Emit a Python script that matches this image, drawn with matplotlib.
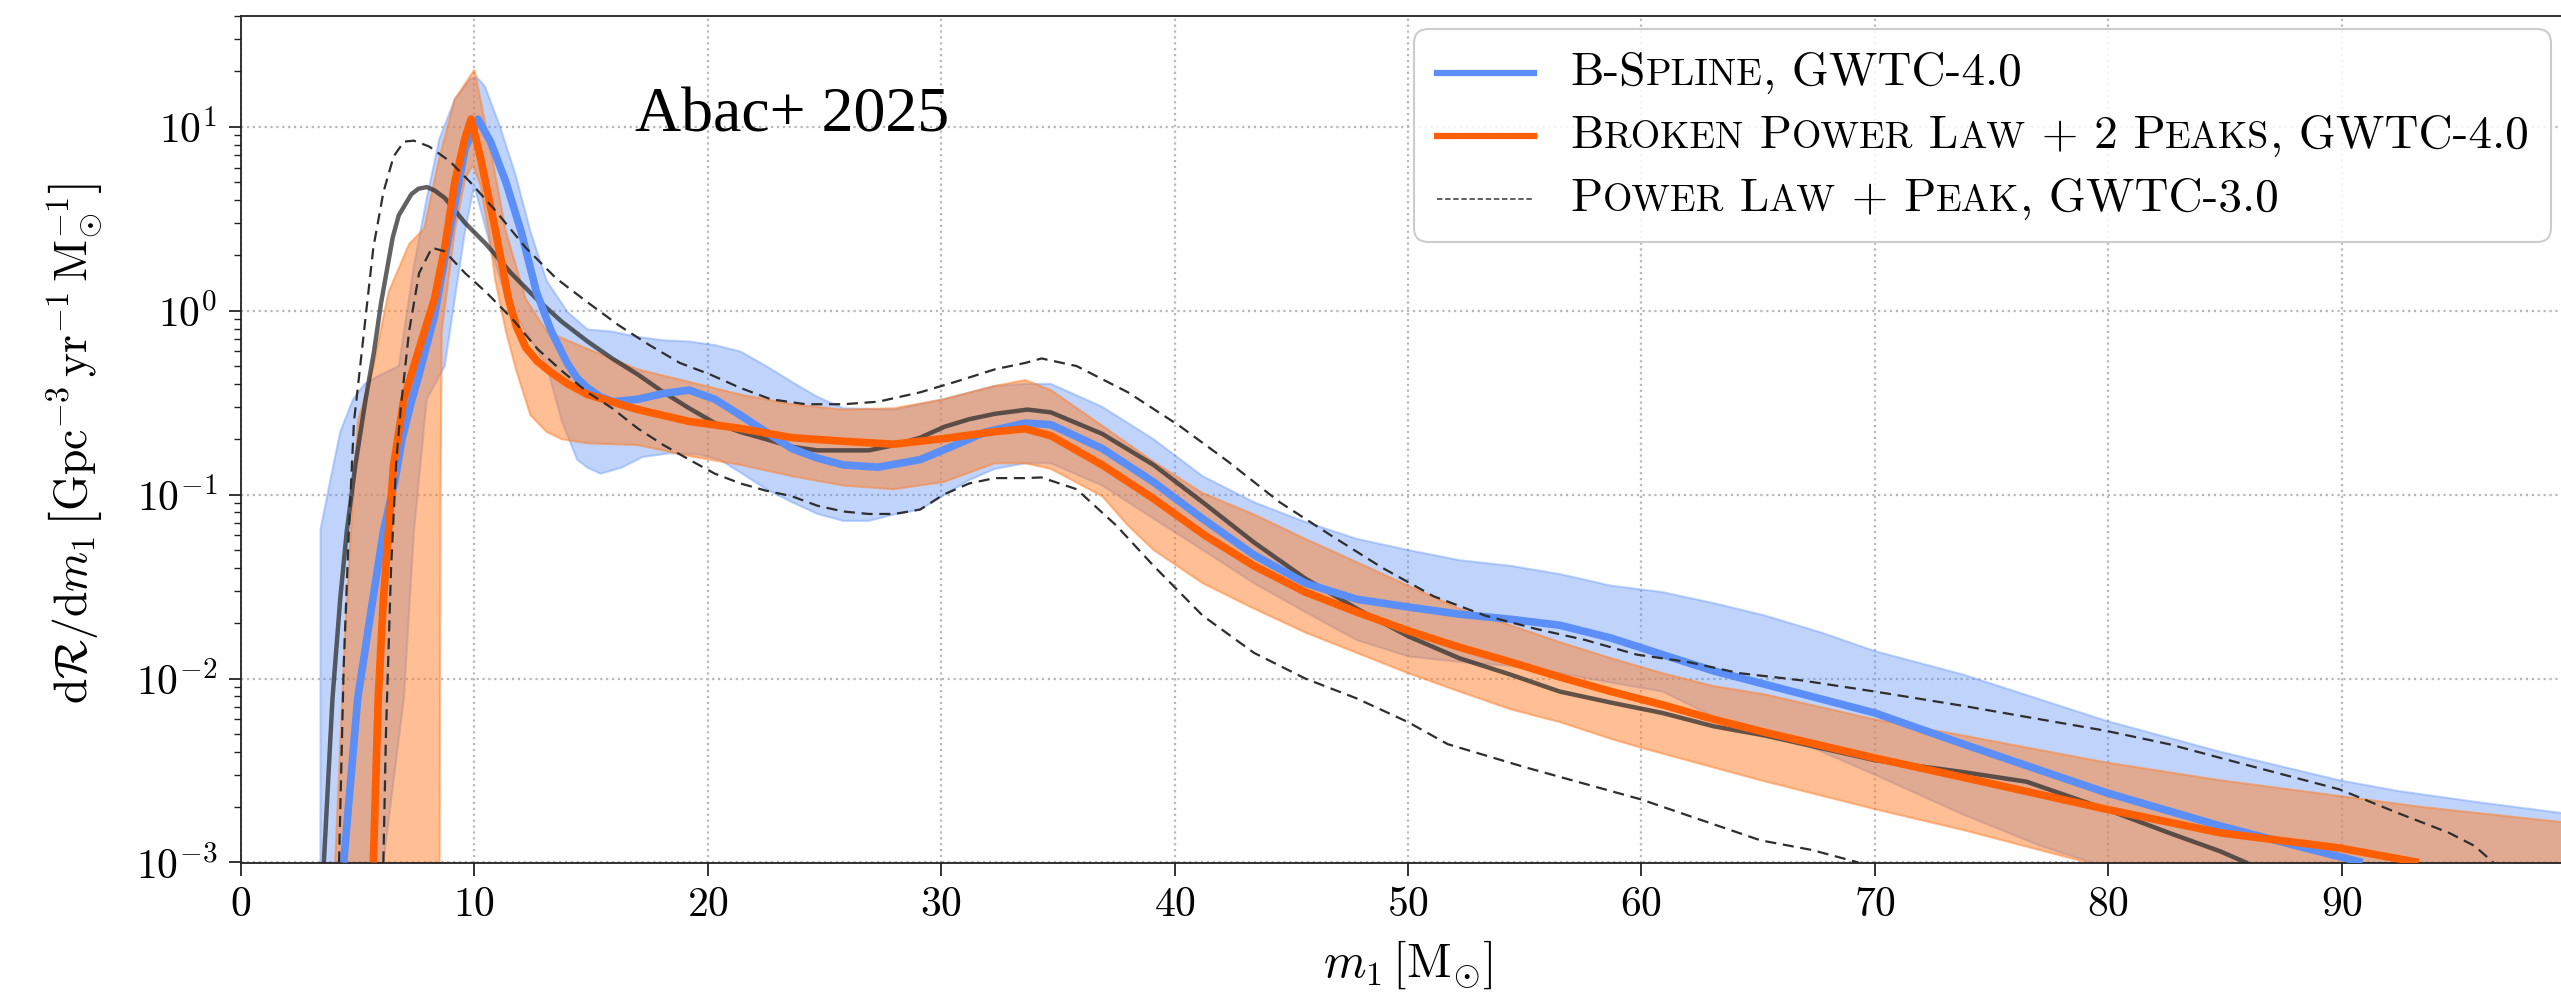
import numpy as np
import matplotlib
matplotlib.use("Agg")
import matplotlib.pyplot as plt
from matplotlib.offsetbox import AnchoredOffsetbox, HPacker, VPacker, TextArea, DrawingArea
from matplotlib.lines import Line2D
from matplotlib.ticker import LogLocator, NullFormatter, FixedLocator

plt.rcParams['font.family'] = 'cmr10'
plt.rcParams['mathtext.fontset'] = 'cm'
plt.rcParams['axes.formatter.use_mathtext'] = True

# ---------------- data ----------------
# B-Spline, GWTC-4.0
bs_med_m = [4.4, 5.0, 5.65, 6.1, 6.6, 6.9, 7.3, 7.63, 8.29, 8.94, 9.6, 10.15, 10.69, 11.35, 12.0,
            12.66, 13.3, 13.97, 14.4, 14.85, 15.4, 15.94, 17.0, 18.1, 19.2, 20.3, 21.4, 22.5, 23.6,
            24.7, 25.8, 27.3, 29.1, 30.6, 31.9, 33.6, 34.7, 36.9, 39.1, 41.2, 43.4, 45.6, 47.8, 50.0,
            52.2, 54.4, 56.5, 58.7, 60.9, 63.1, 65.3, 70.0, 73.8, 79.9, 84.8, 88.1, 90.9]
bs_med_r = [0.001, 0.0078, 0.027, 0.063, 0.12, 0.2, 0.32, 0.45, 0.94, 2.7, 7.6, 11.0, 8.3, 5.0, 2.7,
            1.26, 0.77, 0.52, 0.43, 0.38, 0.34, 0.32, 0.33, 0.355, 0.37, 0.33, 0.27, 0.219, 0.178,
            0.158, 0.145, 0.141, 0.155, 0.186, 0.219, 0.245, 0.24, 0.178, 0.117, 0.074, 0.047, 0.033,
            0.027, 0.0245, 0.0224, 0.021, 0.0195, 0.0166, 0.0135, 0.011, 0.0093, 0.0065, 0.0044,
            0.0024, 0.00158, 0.00123, 0.001]
bs_hi_m = [3.40, 3.41, 3.81, 4.25, 4.8, 5.3, 6.0, 6.76, 7.41, 7.96, 8.5, 9.16, 9.82, 10.1, 10.45,
           11.1, 11.76, 12.4, 13.1, 14.0, 14.85, 15.9, 17.0, 18.1, 19.2, 20.3, 21.4, 22.5, 23.6,
           24.7, 25.8, 28.0, 30.1, 32.3, 33.6, 34.7, 36.9, 39.1, 41.2, 43.4, 45.6, 47.8, 50.0, 52.2,
           54.4, 56.5, 58.7, 60.9, 63.1, 65.3, 67.7, 70.0, 73.8, 79.9, 84.8, 89.9, 92.4, 95.7, 99.4, 100.0]
bs_hi_r = [0.0001, 0.065, 0.117, 0.219, 0.33, 0.40, 0.45, 0.50, 1.76, 4.1, 8.6, 14.1, 18.2, 18.6, 16.6,
           10.0, 5.5, 2.7, 1.45, 0.98, 0.79, 0.77, 0.72, 0.69, 0.68, 0.65, 0.60, 0.50, 0.41,
           0.34, 0.295, 0.29, 0.33, 0.39, 0.40, 0.40, 0.30, 0.20, 0.126, 0.091, 0.071, 0.0575, 0.050,
           0.044, 0.041, 0.037, 0.032, 0.0295, 0.0257, 0.022, 0.0178, 0.0141, 0.0105, 0.0059, 0.004,
           0.0028, 0.00245, 0.00214, 0.00186, 0.00183]
bs_lo_m = [6.09, 6.1, 6.98, 7.41, 7.96, 8.73, 9.16, 9.6, 9.99, 10.7, 11.35, 12.2, 13.1, 13.75, 14.4,
           14.85, 15.4, 16.3, 17.2, 18.4, 19.6, 20.5, 21.4, 22.5, 23.6, 24.7, 25.8, 26.9, 28.0, 29.1,
           30.1, 31.2, 32.3, 33.6, 34.7, 36.9, 39.1, 41.2, 43.4, 45.6, 47.8, 50.0, 52.2, 54.4, 56.5,
           58.7, 60.9, 63.1, 65.1, 66.8, 70.0, 73.8, 77.1, 79.3, 100.0]
bs_lo_r = [0.0001, 0.001, 0.0078, 0.063, 0.33, 0.50, 1.16, 2.7, 4.8, 2.2, 1.16, 0.77, 0.50, 0.25, 0.155,
           0.14, 0.13, 0.14, 0.16, 0.168, 0.165, 0.155, 0.132, 0.107, 0.091, 0.0785, 0.072, 0.072, 0.078,
           0.083, 0.099, 0.12, 0.138, 0.148, 0.148, 0.112, 0.074, 0.050, 0.033, 0.023, 0.0162, 0.0132,
           0.0123, 0.0117, 0.0107, 0.0095, 0.0085, 0.0062, 0.0049, 0.0045, 0.003, 0.00182, 0.00123,
           0.001, 0.0001]

# Broken Power Law + 2 Peaks, GWTC-4.0
bp_med_m = [5.67, 5.88, 6.1, 6.32, 6.54, 6.98, 7.63, 8.29, 8.73, 9.16, 9.6, 9.86, 10.26, 10.91, 11.46,
            11.8, 12.2, 12.7, 13.3, 14.0, 14.85, 17.0, 19.2, 21.4, 23.6, 25.8, 27.96, 30.15, 32.3,
            33.6, 34.7, 36.9, 39.1, 41.3, 43.4, 45.6, 47.8, 50.0, 52.2, 54.4, 56.5, 58.7, 60.9, 63.1,
            65.3, 70.0, 73.8, 79.9, 84.8, 89.9, 93.3]
bp_med_r = [0.001, 0.0078, 0.027, 0.063, 0.145, 0.33, 0.62, 1.16, 2.2, 5.0, 8.7, 11.0, 6.8, 2.7, 1.16,
            0.82, 0.63, 0.53, 0.46, 0.40, 0.35, 0.29, 0.25, 0.229, 0.204, 0.195, 0.188, 0.202, 0.22,
            0.228, 0.209, 0.145, 0.095, 0.060, 0.041, 0.0295, 0.023, 0.0182, 0.0148, 0.0123, 0.0102,
            0.0085, 0.0072, 0.006, 0.0051, 0.0037, 0.0029, 0.00195, 0.00145, 0.0012, 0.001]
bp_hi_m = [4.02, 4.03, 4.46, 4.79, 5.01, 5.67, 6.32, 7.2, 7.85, 8.5, 9.16, 10.0, 10.69, 11.35, 12.2,
           13.1, 14.85, 17.0, 19.2, 21.4, 23.6, 25.8, 28.0, 30.1, 32.3, 33.6, 34.7, 36.9, 39.1, 41.2,
           43.4, 45.6, 47.8, 50.0, 52.2, 54.4, 56.5, 58.7, 60.9, 63.1, 65.3, 70.0, 73.8, 79.9, 84.8,
           89.9, 93.5, 99.4, 100.0]
bp_hi_r = [0.0001, 0.001, 0.0178, 0.095, 0.25, 0.50, 1.26, 2.3, 2.8, 6.8, 14.1, 20.4, 7.6, 2.7, 1.16,
           0.77, 0.62, 0.48, 0.41, 0.35, 0.31, 0.29, 0.295, 0.33, 0.39, 0.42, 0.37, 0.237, 0.151, 0.102,
           0.078, 0.0575, 0.043, 0.032, 0.024, 0.0195, 0.0158, 0.0129, 0.0107, 0.0091, 0.0082, 0.006,
           0.0049, 0.0035, 0.0028, 0.0023, 0.002, 0.00166, 0.00163]
bp_lo_m = [8.50, 8.51, 8.55, 8.6, 9.16, 9.6, 9.93, 10.26, 10.6, 10.9, 11.35, 11.8, 12.4, 13.1, 13.75,
           14.85, 17.0, 19.2, 21.4, 23.6, 25.8, 27.96, 30.1, 32.3, 33.6, 34.7, 36.9, 38.0, 39.1, 41.2,
           43.4, 45.6, 47.8, 50.0, 52.2, 54.4, 56.5, 58.7, 60.0, 65.1, 70.0, 73.8, 79.1, 100.0]
bp_lo_r = [0.0001, 0.001, 0.1, 0.77, 2.7, 5.2, 6.2, 4.8, 2.7, 1.45, 0.77, 0.47, 0.27, 0.219, 0.20,
           0.19, 0.186, 0.162, 0.145, 0.126, 0.112, 0.107, 0.117, 0.148, 0.148, 0.138, 0.098, 0.068,
           0.050, 0.033, 0.024, 0.0178, 0.0138, 0.0107, 0.0085, 0.0068, 0.0058, 0.0047, 0.0042, 0.0028,
           0.00195, 0.0015, 0.001, 0.0001]

# Power Law + Peak, GWTC-3.0
pp_med_m = [3.55, 3.92, 4.25, 4.53, 4.9, 5.34, 5.7, 6.0, 6.3, 6.5, 6.76, 7.3, 7.6, 7.96, 8.3, 8.73,
            9.6, 10.5, 11.57, 12.66, 13.75, 14.85, 15.9, 17.0, 18.1, 19.2, 20.3, 21.4, 22.5, 23.6,
            24.7, 25.8, 26.9, 28.0, 29.1, 30.15, 31.2, 32.3, 33.7, 34.7, 36.9, 39.1, 41.2, 43.4,
            45.6, 47.8, 50.0, 52.2, 54.4, 56.5, 58.7, 60.9, 63.1, 65.3, 70.0, 73.8, 76.5, 79.9, 82.6,
            84.8, 85.9]
pp_med_r = [0.001, 0.0078, 0.027, 0.063, 0.145, 0.33, 0.6, 1.1, 1.8, 2.5, 3.3, 4.3, 4.6, 4.7, 4.5, 4.1,
            3.0, 2.3, 1.6, 1.16, 0.87, 0.68, 0.55, 0.45, 0.36, 0.295, 0.245, 0.219, 0.20, 0.182,
            0.174, 0.174, 0.174, 0.186, 0.204, 0.234, 0.257, 0.275, 0.29, 0.28, 0.214, 0.145, 0.091,
            0.055, 0.035, 0.024, 0.017, 0.0129, 0.0105, 0.0085, 0.0074, 0.0065, 0.0055, 0.0049,
            0.0036, 0.0031, 0.00275, 0.00195, 0.00145, 0.00115, 0.001]
pp_hi_m = [4.2, 4.4, 4.62, 4.84, 4.95, 5.27, 5.67, 6.1, 6.54, 6.98, 7.41, 8.07, 8.94, 9.82, 10.9,
           12.2, 13.5, 14.85, 16.2, 17.5, 18.8, 20.1, 21.4, 22.7, 24.2, 25.8, 27.3, 29.1, 30.6, 32.3,
           33.6, 34.3, 35.8, 38.0, 40.2, 42.3, 44.5, 46.7, 48.9, 51.1, 53.3, 55.5, 57.6, 59.8, 62.0,
           64.2, 66.8, 70.0, 73.8, 77.1, 79.9, 82.6, 85.9, 89.9, 92.4, 94.6, 95.7, 96.5]
pp_hi_r = [0.001, 0.0117, 0.063, 0.25, 0.33, 0.77, 2.2, 4.4, 6.9, 8.3, 8.4, 7.8, 6.5, 5.0, 3.5,
           2.2, 1.5, 1.11, 0.83, 0.65, 0.52, 0.45, 0.38, 0.33, 0.31, 0.31, 0.32, 0.36, 0.41, 0.48,
           0.52, 0.55, 0.50, 0.36, 0.237, 0.151, 0.091, 0.060, 0.040, 0.028, 0.022, 0.0186, 0.0162,
           0.0135, 0.0123, 0.0107, 0.0098, 0.0085, 0.0071, 0.006, 0.0052, 0.0044, 0.0034, 0.0025,
           0.00186, 0.00145, 0.00123, 0.001]
pp_lo_m = [6.1, 6.21, 6.43, 6.65, 6.85, 7.2, 7.63, 8.18, 8.73, 9.6, 10.5, 11.6, 12.7, 13.75, 14.85,
           15.9, 17.0, 18.1, 19.2, 20.3, 21.4, 22.5, 23.6, 24.7, 25.8, 26.9, 28.0, 29.1, 30.1, 31.2,
           32.3, 33.6, 34.3, 35.8, 37.5, 39.1, 41.2, 43.4, 45.6, 47.8, 50.0, 51.7, 55.0, 60.0, 65.1,
           67.3, 69.3]
pp_lo_r = [0.001, 0.005, 0.04, 0.15, 0.3, 0.77, 1.6, 2.2, 2.1, 1.6, 1.26, 0.91, 0.62, 0.47, 0.36,
           0.295, 0.229, 0.186, 0.155, 0.13, 0.115, 0.105, 0.098, 0.087, 0.081, 0.0785, 0.0785, 0.083,
           0.1, 0.115, 0.123, 0.123, 0.124, 0.107, 0.068, 0.041, 0.022, 0.0138, 0.01, 0.0078, 0.0058,
           0.0044, 0.0033, 0.0022, 0.00132, 0.00117, 0.001]

x_ticks = [0, 10, 20, 30, 40, 50, 60, 70, 80, 90]

legend_rows = [
    [("B-S", False), ("PLINE", True), (", GWTC-4.0", False)],
    [("B", False), ("ROKEN", True), (" P", False), ("OWER", True), (" L", False), ("AW", True),
     (" + 2 P", False), ("EAKS", True), (", GWTC-4.0", False)],
    [("P", False), ("OWER", True), (" L", False), ("AW", True), (" + P", False), ("EAK", True),
     (", GWTC-3.0", False)],
]

# ---------------- style ----------------
BLUE = '#5b8ff7'
ORANGE = '#ff5f00'
ORANGE_FILL = '#ff7f2a'
GRAY = '#2e2e2e'

fig = plt.figure(figsize=(25.61, 10), dpi=100)
ax = fig.add_axes([241 / 2561, 0.1375, 2334 / 2561, 0.8465])

ax.fill(np.r_[bs_hi_m, bs_lo_m[::-1]], np.r_[bs_hi_r, bs_lo_r[::-1]],
        facecolor=BLUE, edgecolor=BLUE, alpha=0.38, lw=1.5, zorder=1)
ax.fill(np.r_[bp_hi_m, bp_lo_m[::-1]], np.r_[bp_hi_r, bp_lo_r[::-1]],
        facecolor=ORANGE_FILL, edgecolor=ORANGE_FILL, alpha=0.5, lw=1.5, zorder=1.5)

ax.plot(pp_med_m, pp_med_r, color=GRAY, alpha=0.75, lw=3.2, zorder=2)
ax.plot(bs_med_m, bs_med_r, color=BLUE, lw=5.5, zorder=3, solid_capstyle='butt')
ax.plot(bp_med_m, bp_med_r, color=ORANGE, lw=5.5, zorder=4, solid_capstyle='butt')
ax.plot(pp_hi_m, pp_hi_r, color=GRAY, lw=1.6, ls=(0, (5, 3)), zorder=5)
ax.plot(pp_lo_m, pp_lo_r, color=GRAY, lw=1.6, ls=(0, (5, 3)), zorder=5)

ax.set_yscale('log')
ax.set_xlim(0, 100)
ax.set_ylim(1e-3, 40)
ax.xaxis.set_major_locator(FixedLocator(x_ticks))
ax.yaxis.set_major_locator(LogLocator(base=10, numticks=10))
ax.yaxis.set_minor_locator(LogLocator(base=10, subs=np.arange(2, 10), numticks=20))
ax.yaxis.set_minor_formatter(NullFormatter())

ax.set_axisbelow(True)
ax.grid(True, which='major', ls=':', color='#b8b8b8', lw=1.6)
ax.tick_params(axis='both', which='major', direction='out', length=9, width=1.3,
               labelsize=30, pad=8, color='#222222')
ax.tick_params(axis='y', which='minor', direction='out', length=5, width=1.0, color='#222222')
for s in ax.spines.values():
    s.set_linewidth(1.3)
    s.set_color('#222222')

ax.set_xlabel(r'$m_1\,[\mathrm{M}_{\odot}]$', fontsize=35)
ax.set_ylabel(r'$\mathrm{d}\mathcal{R}/\mathrm{d}m_1\,\left[\mathrm{Gpc}^{-3}\,\mathrm{yr}^{-1}\,\mathrm{M}_{\odot}^{-1}\right]$',
              fontsize=33)
ax.xaxis.set_label_coords(0.5, -0.09)
ax.yaxis.set_label_coords(-0.058, 0.495)

fig.text(635 / 2561, 1 - 131 / 1000, 'Abac+ 2025', family='Liberation Serif', size=46,
         va='baseline', ha='left')

# ---------------- legend with small caps ----------------
LSIZE = 34
handle_styles = [dict(color=BLUE, lw=4.5), dict(color=ORANGE, lw=4.5),
                 dict(color='#555555', lw=1.3, ls=(0, (3, 1.5)))]
rows = []
for style, pieces in zip(handle_styles, legend_rows):
    da = DrawingArea(70, 20, 0, 0)
    da.add_artist(Line2D([0, 70], [10, 10], **style))
    areas = [TextArea(t, textprops=dict(size=LSIZE * (0.8 if sm else 1.0), family='cmr10'))
             for t, sm in pieces]
    lab = HPacker(children=areas, align='baseline', pad=0, sep=0)
    rows.append(HPacker(children=[da, lab], align='center', pad=0, sep=26))
vbox = VPacker(children=rows, align='left', pad=0, sep=15)
anch = AnchoredOffsetbox(loc='upper right', child=vbox, pad=0.48, borderpad=0, frameon=True,
                         prop=dict(size=LSIZE),
                         bbox_to_anchor=(2551 / 2561, 1 - 29 / 1000), bbox_transform=fig.transFigure)
anch.patch.set_boxstyle('round,pad=0,rounding_size=0.3')
anch.patch.set_facecolor((1, 1, 1, 0.85))
anch.patch.set_edgecolor('#cccccc')
anch.patch.set_linewidth(1.5)
anch.set_zorder(10)
ax.add_artist(anch)

fig.savefig('out.png', dpi=100)
